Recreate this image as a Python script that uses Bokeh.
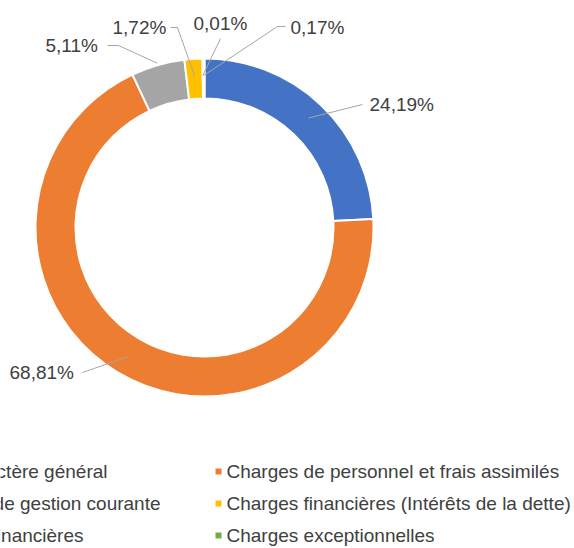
import math
from bokeh.plotting import figure
from bokeh.models import Range1d, ColumnDataSource
from bokeh.embed import file_html
from bokeh.resources import INLINE
from bokeh.core.properties import value

# ---------------- data ----------------
categories = [
    "Charges à caractère général",
    "Charges de personnel et frais assimilés",
    "Autres charges de gestion courante",
    "Charges financières (Intérêts de la dette)",
    "Autres charges financières",
    "Charges exceptionnelles",
]
values = [24.19, 68.81, 5.11, 1.72, 0.01, 0.17]
labels = ["24,19%", "68,81%", "5,11%", "1,72%", "0,01%", "0,17%"]
colors = ["#4472C4", "#ED7D31", "#A5A5A5", "#FFC000", "#5B9BD5", "#70AD47"]

# ---------------- layout (pixels) ----------------
W, H = 574, 548
CX, CY = 204, 227
R_OUT, R_IN = 169, 129
FONT = value("Liberation Sans")
TXT = "#404040"


def Y(py):
    return H - py


p = figure(width=W, height=H, output_backend="svg", toolbar_location=None,
           x_range=Range1d(0, W), y_range=Range1d(0, H), min_border=0,
           x_axis_location=None, y_axis_location=None)
p.outline_line_color = None
p.grid.visible = False
p.background_fill_color = "white"
p.border_fill_color = "white"

# ---------------- donut ----------------
total = sum(values)
starts, ends, mids = [], [], []
cum = 0.0
for v in values:
    a0 = math.pi / 2 - 2 * math.pi * cum / total
    cum += v
    a1 = math.pi / 2 - 2 * math.pi * cum / total
    starts.append(a0)
    ends.append(a1)
    mids.append((a0 + a1) / 2)

src = ColumnDataSource(dict(start=starts, end=ends, color=colors, cat=categories))
p.annular_wedge(x=CX, y=Y(CY), inner_radius=R_IN, outer_radius=R_OUT,
                start_angle="start", end_angle="end", direction="clock",
                fill_color="color", line_color="white", line_width=2, source=src)

# ---------------- data labels + leader lines ----------------
label_pos = [(369, 104), (9, 372), (45, 45), (112, 27), (193, 23), (290, 27)]
leader_path = [
    [(362, 104)],
    [(82, 372)],
    [(107, 45), (118, 45)],
    [(170, 27), (177, 27)],
    [(220, 38)],
    [(285, 26), (277, 26)],
]
leader_r = [151, 151, 171, 152, 152, 152]

xs, ys = [], []
for i in range(len(values)):
    sx = CX + leader_r[i] * math.cos(mids[i])
    sy = CY - leader_r[i] * math.sin(mids[i])
    pts = leader_path[i] + [(sx, sy)]
    xs.append([q[0] for q in pts])
    ys.append([Y(q[1]) for q in pts])
p.multi_line(xs=xs, ys=ys, line_color="#A6A6A6", line_width=1)

p.text(x=[q[0] for q in label_pos], y=[Y(q[1]) for q in label_pos], text=labels,
       text_font=FONT, text_font_size="19px", text_color=TXT,
       text_align="left", text_baseline="middle")

# ---------------- legend (manual, cropped on the left) ----------------
row_y = [471, 503, 535]
right_marker_x, right_text_x = 218, 226
left_text_end = [107, 160, 83]

left_idx = [0, 2, 4]
right_idx = [1, 3, 5]

p.text(x=left_text_end, y=[Y(r) for r in row_y], text=[categories[i] for i in left_idx],
       text_font=FONT, text_font_size="19px", text_color=TXT,
       text_align="right", text_baseline="middle")
p.scatter(x=[right_marker_x] * 3, y=[Y(r) for r in row_y], marker="square", size=6,
          fill_color=[colors[i] for i in right_idx], line_color=None)
p.text(x=[right_text_x] * 3, y=[Y(r) for r in row_y], text=[categories[i] for i in right_idx],
       text_font=FONT, text_font_size="19px", text_color=TXT,
       text_align="left", text_baseline="middle")

open("out.html", "w").write(file_html(p, INLINE))
